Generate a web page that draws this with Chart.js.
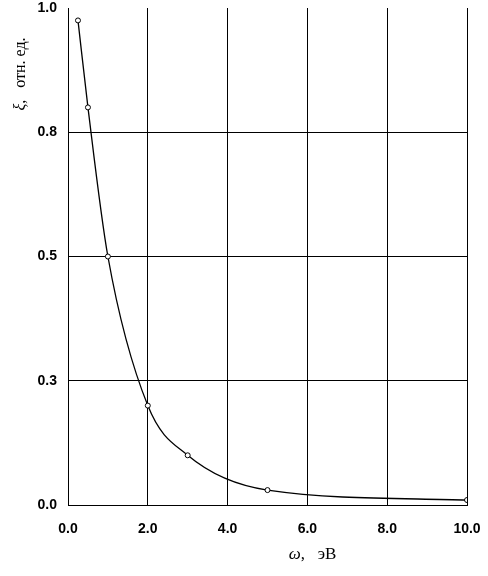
<!DOCTYPE html>
<html>
<head>
<meta charset="utf-8">
<script src="https://cdn.jsdelivr.net/npm/chart.js@4.4.1/dist/chart.umd.min.js"></script>
<style>
html,body{margin:0;padding:0;background:#fff;}
#wrap{width:488px;height:576px;position:relative;}
</style>
</head>
<body>
<div id="wrap"><canvas id="c" width="488" height="576"></canvas></div>
<script>
// Data
const omega = [0.25, 0.5, 1.0, 2.0, 3.0, 5.0, 10.0];
const xi = [0.975, 0.80, 0.50, 0.20, 0.10, 0.03, 0.01];
const xTicks = [0, 2, 4, 6, 8, 10];
const yTicks = [0, 0.25, 0.5, 0.75, 1.0];
const xTitle = ['ω', ',   эВ'];
const yTitle = ['ξ', ',   отн. ед.'];

const points = omega.map((x, i) => ({x: x, y: xi[i]}));

const titlePlugin = {
  id: 'titles',
  afterDraw(chart) {
    const ctx = chart.ctx;
    const a = chart.chartArea;
    ctx.save();
    ctx.fillStyle = '#000';
    ctx.textBaseline = 'middle';
    // x title
    const fI = 'italic 17px "Liberation Serif", "DejaVu Serif", serif';
    const fN = '17px "Liberation Serif", "DejaVu Serif", serif';
    ctx.font = fI; const w1 = ctx.measureText(xTitle[0]).width;
    ctx.font = fN; const w2 = ctx.measureText(xTitle[1]).width;
    let cx = (a.left + a.right) / 2 + 45;
    let x0 = cx - (w1 + w2) / 2;
    const yy = 555;
    ctx.textAlign = 'left';
    ctx.font = fI; ctx.fillText(xTitle[0], x0, yy);
    ctx.font = fN; ctx.fillText(xTitle[1], x0 + w1, yy);
    // y title
    ctx.save();
    ctx.translate(21, a.top + 66);
    ctx.rotate(-Math.PI / 2);
    const gI = 'italic 16px "Liberation Serif", "DejaVu Serif", serif';
    const gN = '16px "Liberation Serif", "DejaVu Serif", serif';
    ctx.font = gI; const v1 = ctx.measureText(yTitle[0]).width;
    ctx.font = gN; const v2 = ctx.measureText(yTitle[1]).width;
    let s0 = -(v1 + v2) / 2;
    ctx.font = gI; ctx.fillText(yTitle[0], s0, 0);
    ctx.font = gN; ctx.fillText(yTitle[1], s0 + v1, 0);
    ctx.restore();
    ctx.restore();
  }
};

const tickFont = {family: '"Liberation Sans", Arial, sans-serif', size: 14, weight: 'bold'};
const zeroPad = s => { s.paddingTop = 0; s.paddingBottom = 0; s.paddingLeft = 0; s.paddingRight = 0; };

new Chart(document.getElementById('c'), {
  type: 'line',
  data: {
    datasets: [{
      data: points,
      borderColor: '#000',
      borderWidth: 1.3,
      cubicInterpolationMode: 'monotone',
      pointRadius: 2.5,
      pointBackgroundColor: '#fff',
      pointBorderColor: '#000',
      pointBorderWidth: 1,
      fill: false
    }]
  },
  options: {
    responsive: false,
    animation: false,
    devicePixelRatio: 1,
    layout: {padding: {top: 8, right: 21, bottom: 0, left: 0}},
    plugins: {legend: {display: false}, tooltip: {enabled: false}},
    scales: {
      x: {
        type: 'linear',
        min: 0, max: 10,
        afterBuildTicks: s => { s.ticks = xTicks.map(v => ({value: v})); },
        afterFit: s => { s.height = 71; zeroPad(s); },
        ticks: {
          color: '#000', font: tickFont, padding: 16, maxRotation: 0,
          callback: v => Number(v).toFixed(1)
        },
        grid: {color: '#000', lineWidth: 1, drawTicks: false},
        border: {display: true, color: '#000', width: 1}
      },
      y: {
        min: 0, max: 1,
        afterBuildTicks: s => { s.ticks = yTicks.map(v => ({value: v})); },
        afterFit: s => { s.width = 68; zeroPad(s); },
        ticks: {
          color: '#000', font: tickFont, padding: 11,
          callback: v => Number(v).toFixed(1)
        },
        grid: {
          color: ctx => (ctx.tick && ctx.tick.value === 1) ? 'rgba(0,0,0,0)' : '#000',
          lineWidth: 1, drawTicks: false
        },
        border: {display: true, color: '#000', width: 1}
      }
    }
  },
  plugins: [titlePlugin]
});
</script>
</body>
</html>
